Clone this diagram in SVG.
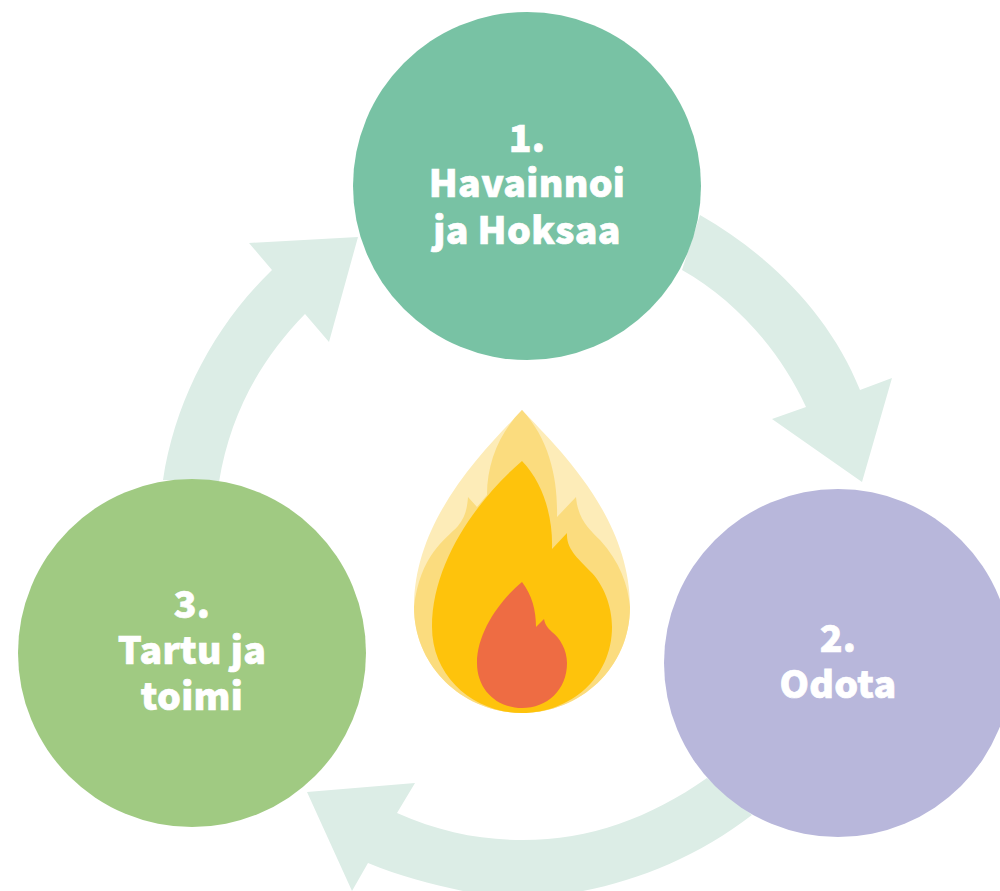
<svg xmlns="http://www.w3.org/2000/svg" width="1000" height="891" viewBox="0 0 1000 891">
<style>
.t{font-family:"Noto Sans CJK JP","Noto Sans CJK SC","Noto Sans",sans-serif;font-weight:900;font-size:37.5px;letter-spacing:.3px;fill:#fff;stroke:#fff;stroke-width:.7px;text-anchor:middle}
.a{fill:#dcede6}
</style>
<rect width="1000" height="891" fill="#fff"/>
<g id="connectors">
<path class="a" d="M700 215C770 255 830 315 860 390L892 378L862 482L772 419L806 407C780 350 735 300 682 270Z"/>
<path class="a" d="M752 815C700 855 640 880 583 891H463C430 884 400 876 368 863L352 891L307 792L415 783L397 813C440 832 480 840 523 840C590 840 650 818 707 778Z"/>
<path class="a" d="M163 480C175 400 215 325 272 270L249 243L358 237L329 342L305 314C260 360 230 415 219 482Z"/>
</g>
<g id="node1"><circle cx="527" cy="186" r="174" fill="#78c2a4"/><text class="t"><tspan x="527" y="152">1.</tspan><tspan x="527" y="197">Havainnoi</tspan><tspan x="527" y="244">ja Hoksaa</tspan></text></g>
<g id="node2"><circle cx="838" cy="663" r="174" fill="#b8b7db"/><text class="t"><tspan x="838" y="652">2.</tspan><tspan x="838" y="698">Odota</tspan></text></g>
<g id="node3"><circle cx="192" cy="653" r="174" fill="#a0ca82"/><text class="t"><tspan x="192" y="618">3.</tspan><tspan x="192" y="664">Tartu ja</tspan><tspan x="192" y="710">toimi</tspan></text></g>
<g id="flame">
<path fill="#fdecb8" d="M522 410C490 445 414 515 414 607C414 668 465 713 522 713C580 713 630 668 630 607C630 515 555 445 522 410Z"/>
<path fill="#fbdc7e" d="M522 410C500 432 487 462 487 495L477 507L468 497C467 510 465 517 458 526C445 540 420 555 414 607C414 668 465 713 522 713C580 713 630 668 630 607C628 585 620 562 600 540C590 530 578 520 576 497L557 517C558 480 550 440 522 410Z"/>
<path fill="#fec30c" d="M522 461C480 497 432 560 432 627C432 678 475 713 522 713C570 713 612 678 612 627C612 605 603 585 592 573C580 560 566 550 567 533L552 549C553 520 545 485 522 461Z"/>
<path fill="#ee6c43" d="M522 582C500 600 477 632 477 663C477 690 497 708 522 708C547 708 567 690 567 663C567 650 560 638 552 632C548 628 545 625 544 619L536 627C536 610 532 595 522 582Z"/>
</g>
</svg>
